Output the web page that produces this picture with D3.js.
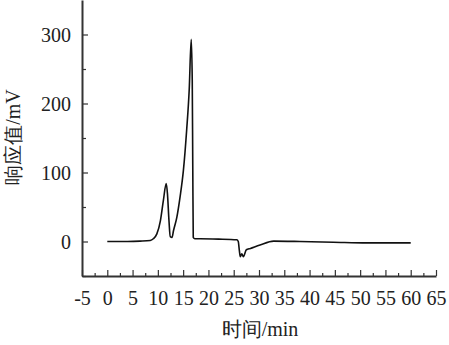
<!DOCTYPE html>
<meta charset="utf-8">
<head>
  <title>响应值</title>
  <script src="https://cdn.jsdelivr.net/npm/d3@7"></script>
  <style>
    body { margin: 0; background: #fff; }
  </style>
</head>
<body>
<svg width="449" height="345"></svg>
<script>

  // chromatogram
  var time = [0, 4, 6.5, 8.5, 9.1, 9.8, 10.5, 11.1, 11.65, 11.9, 12.2, 12.45, 12.8, 13.1, 13.75, 14.4,
              15.05, 15.7, 16.2, 16.6, 16.8, 16.9, 17.0, 17.3, 18.4, 22, 25.6, 25.9, 26.1, 26.3, 26.6,
              26.9, 27.5, 28.3, 30.2, 32.9, 38.1, 44.7, 51.3, 60];
  var resp = [0, 0, 0.5, 1.5, 4, 11, 30, 60, 84, 69, 30, 7, 6, 16, 35, 65,
              103, 162, 220, 293, 234, 113, 6, 4, 4, 3.5, 2.5, 0, -12, -22, -18,
              -22, -12, -10, -5, 0.5, 0, -1, -2, -2];

  var xTicks = d3.range(-5, 66, 5);
  var yTicks = [0, 100, 200, 300];

  var serif = "'Liberation Serif'";
  var svg = d3.select("svg");

  var x = d3.scaleLinear().domain([-5, 65]).range([82, 436]);
  var y = d3.scaleLinear().domain([-50, 350]).range([276, 0]);

  // minor ticks
  svg.append("g")
    .attr("transform", "translate(0,276)")
    .call(d3.axisTop(x).tickValues(d3.range(-2.5, 65, 5)).tickSize(3).tickFormat(""))
    .call(g => g.select(".domain").remove());
  svg.append("g")
    .attr("transform", "translate(82,0)")
    .call(d3.axisRight(y).tickValues([-50, 50, 150, 250]).tickSize(4).tickFormat(""))
    .call(g => g.select(".domain").remove());

  // x axis
  var gx = svg.append("g")
    .attr("transform", "translate(0,276)")
    .call(d3.axisTop(x).tickValues(xTicks).tickSize(6).tickSizeOuter(0));
  gx.selectAll("text").remove();
  gx.selectAll(".tick").append("text")
    .attr("y", 29)
    .attr("text-anchor", "middle")
    .style("font-family", serif)
    .style("font-size", "20px")
    .attr("fill", "#222")
    .text(d => d);

  // y axis
  var gy = svg.append("g")
    .attr("transform", "translate(82,0)")
    .call(d3.axisRight(y).tickValues(yTicks).tickSize(6).tickSizeOuter(0));
  gy.selectAll("text").remove();
  gy.selectAll(".tick").append("text")
    .attr("x", -11)
    .attr("dy", "0.35em")
    .attr("text-anchor", "end")
    .style("font-family", serif)
    .style("font-size", "20px")
    .attr("fill", "#222")
    .text(d => d);

  svg.selectAll(".domain").attr("stroke", "#333").attr("stroke-width", 2);
  svg.selectAll(".tick line").attr("stroke", "#333").attr("stroke-width", 1.2);

  // curve
  var line = d3.line()
    .x((d, i) => x(time[i]))
    .y(d => y(d))
    .curve(d3.curveMonotoneX);

  svg.append("path")
    .datum(resp)
    .attr("fill", "none")
    .attr("stroke", "#111")
    .attr("stroke-width", 1.6)
    .attr("stroke-linejoin", "round")
    .attr("d", line);

  // titles
  svg.append("text")
    .attr("x", 260)
    .attr("y", 336)
    .attr("text-anchor", "middle")
    .style("font-family", serif)
    .style("font-size", "20px")
    .attr("fill", "#222")
    .text("时间/min");

  svg.append("text")
    .attr("transform", "translate(20,137) rotate(-90)")
    .attr("text-anchor", "middle")
    .style("font-family", serif)
    .style("font-size", "20px")
    .attr("fill", "#222")
    .text("响应值/mV");

</script>
</body>
</html>
